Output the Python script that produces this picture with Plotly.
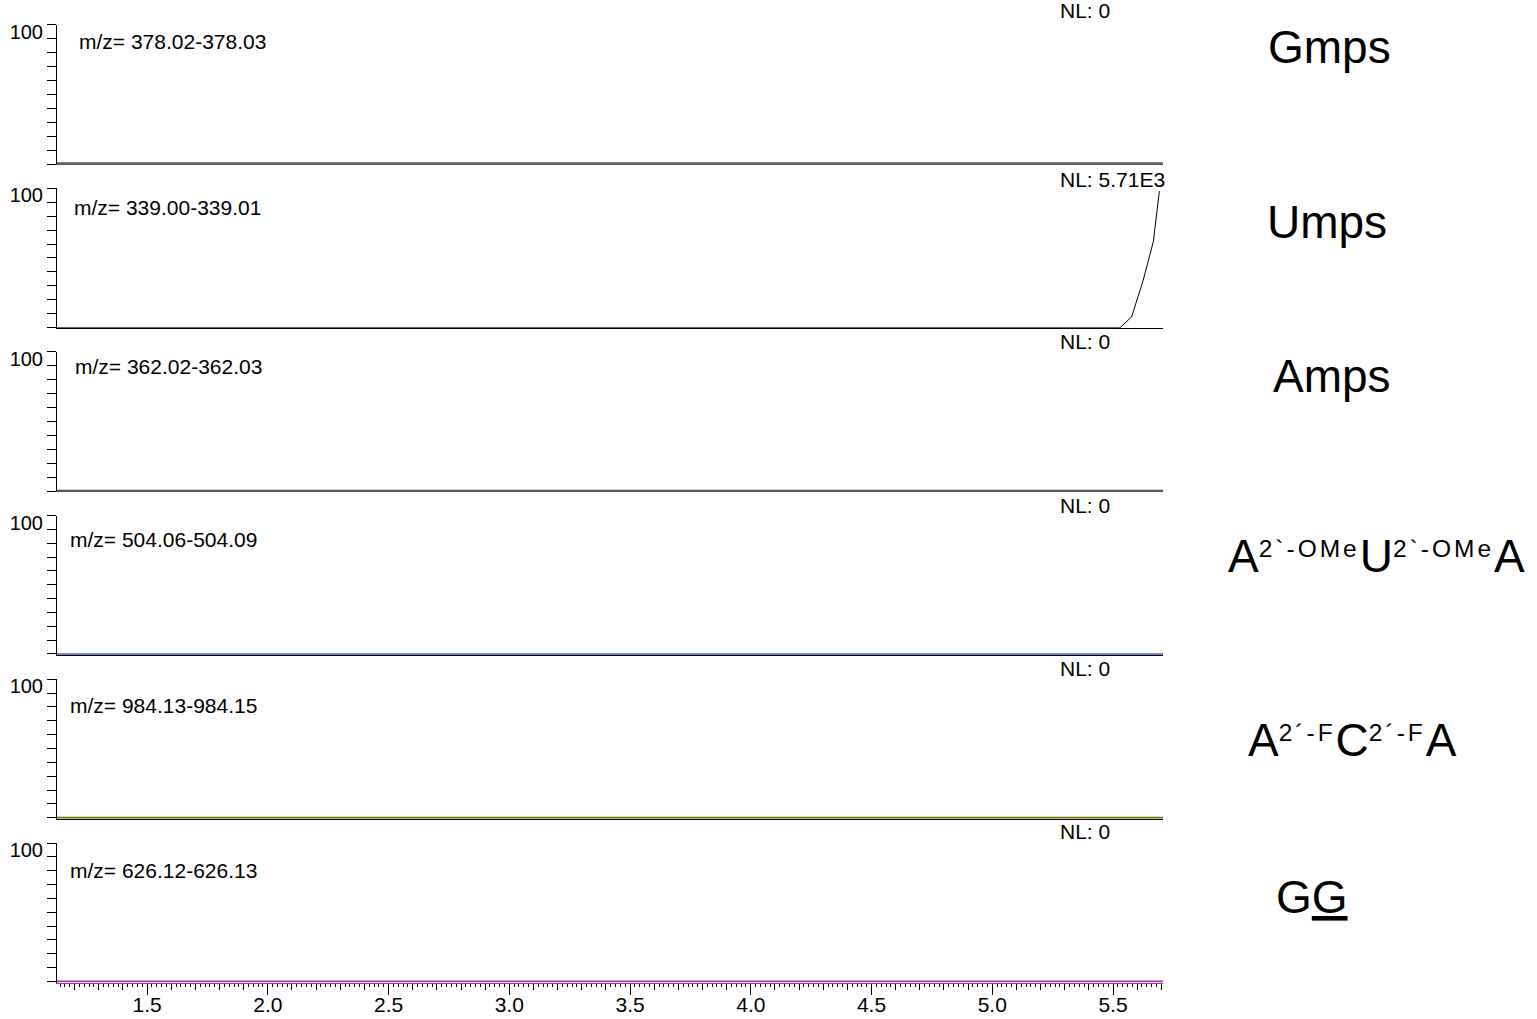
import plotly.graph_objects as go

# Retention time window shared by all chromatograms (min)
rt_range = [1.127, 5.707]

# Extracted-ion windows, normalisation levels and compound names
mz_windows = ["m/z= 378.02-378.03", "m/z= 339.00-339.01", "m/z= 362.02-362.03",
              "m/z= 504.06-504.09", "m/z= 984.13-984.15", "m/z= 626.12-626.13"]
nl_levels = ["NL: 0", "NL: 5.71E3", "NL: 0", "NL: 0", "NL: 0", "NL: 0"]

# Relative abundance (%) against retention time for each trace
gmps_rt = [1.127, 5.707]
gmps_int = [0, 0]
umps_rt = [1.127, 5.529, 5.577, 5.625, 5.667, 5.692]
umps_int = [0, 0, 7.8, 34, 61.7, 98]
amps_rt = [1.127, 5.707]
amps_int = [0, 0]
aua_rt = [1.127, 5.707]
aua_int = [0, 0]
aca_rt = [1.127, 5.707]
aca_int = [0, 0]
gg_rt = [1.127, 5.707]
gg_int = [0, 0]

traces_rt = [gmps_rt, umps_rt, amps_rt, aua_rt, aca_rt, gg_rt]
traces_int = [gmps_int, umps_int, amps_int, aua_int, aca_int, gg_int]

# y tick marks every 10 %, only the top one labelled
y_ticks = [0, 10, 20, 30, 40, 50, 60, 70, 80, 90, 100]
y_ticktext = ["", "", "", "", "", "", "", "", "", "", "100"]

FONT = "Arial, Liberation Sans, sans-serif"
W, H = 1537, 1019
L, R = 57, 374
PW = W - L - R

trace_colors = ["#606060", "#000000", "#565656", "#4f5fae", "#6e6e00", "#9a3f9a"]
trace_widths = [3.5, 1, 3.5, 1.6, 1.8, 2]
axis_colors = ["#606060", "#000000", "#565656", "#000000", "#000000", "#9a3f9a"]
# the coloured baselines sit just above the axis line
y_low = [0, 0, 0, -0.8, -0.8, -0.8]

tops = [24.5 + 163.7 * i for i in range(6)]
panel_h = 139.5


def ax_id(n):
    return "" if n == 1 else str(n)


fig = go.Figure()
layout = dict(
    width=W, height=H,
    margin=dict(l=L, r=R, t=0, b=0, pad=0, autoexpand=False),
    paper_bgcolor="white", plot_bgcolor="white",
    showlegend=False,
    font=dict(family=FONT, color="black"),
)

for i in range(6):
    n = i + 1
    k = ax_id(n)
    fig.add_trace(go.Scatter(
        x=traces_rt[i], y=traces_int[i], mode="lines",
        line=dict(color=trace_colors[i], width=trace_widths[i]),
        xaxis=f"x{k}", yaxis=f"y{k}", hoverinfo="skip",
    ))
    top = tops[i]
    dom = [1 - (top + panel_h) / H, 1 - top / H]
    xa = dict(
        domain=[0, 1], range=rt_range, anchor=f"y{k}", automargin=False,
        showline=True, linecolor=axis_colors[i], linewidth=1,
        layer="below traces",
        showgrid=False, zeroline=False, fixedrange=True,
        ticks="", showticklabels=False,
    )
    if n == 6:
        xa.update(
            tickmode="linear", tick0=0, dtick=0.5, ticks="outside",
            ticklen=11, tickwidth=1, tickcolor="black",
            minor=dict(tick0=0, dtick=0.1, ticks="outside", ticklen=6,
                       tickwidth=1, tickcolor="black", showgrid=False),
        )
    layout[f"xaxis{k}"] = xa
    layout[f"yaxis{k}"] = dict(
        domain=dom, range=[y_low[i], 100], anchor=f"x{k}", automargin=False,
        showline=True, linecolor="black", linewidth=1,
        showgrid=False, zeroline=False, fixedrange=True,
        tickmode="array", tickvals=y_ticks, ticktext=y_ticktext,
        ticks="outside", ticklen=9, tickwidth=1, tickcolor="black",
        tickfont=dict(size=20, family=FONT, color="black"),
        ticklabelshift=7,
    )

# overlaid axis under the bottom panel: finest 0.02-min ticks and the time labels
fig.add_trace(go.Scatter(x=[], y=[], xaxis="x7", yaxis="y6", hoverinfo="skip"))
layout["xaxis7"] = dict(
    overlaying="x6", anchor="y6", range=rt_range, domain=[0, 1],
    automargin=False,
    tickmode="linear", tick0=0, dtick=0.5, ticks="outside", ticklen=3,
    tickwidth=1, tickcolor="black",
    showticklabels=True, tickformat=".1f",
    tickfont=dict(size=21, family=FONT, color="black"),
    minor=dict(tick0=0, dtick=0.02, ticks="outside", ticklen=3,
               tickwidth=1, tickcolor="black", showgrid=False),
    showline=False, showgrid=False, zeroline=False, fixedrange=True,
)

annotations = []
mz_x = [77, 72, 73, 68, 68, 68]
mz_dy = [17, 19, 15, 24, 26, 27.5]
nl_dy = [14, 9, 10, 10, 11, 12]
for i in range(6):
    k = ax_id(i + 1)
    annotations.append(dict(
        text=mz_windows[i], xref=f"x{k} domain", yref=f"y{k} domain",
        x=(mz_x[i] - L) / PW, y=1, xanchor="left", yanchor="middle",
        yshift=-mz_dy[i], showarrow=False,
        font=dict(size=21, family=FONT, color="black"),
    ))
    annotations.append(dict(
        text=nl_levels[i], xref=f"x{k} domain", yref=f"y{k} domain",
        x=(1058 - L) / PW, y=1, xanchor="left", yanchor="middle",
        yshift=nl_dy[i], showarrow=False,
        font=dict(size=21, family=FONT, color="black"),
    ))

BIG = "font-size:46px"
SUP = "letter-spacing:3px"
compound_labels = [
    ("Gmps", 1329, 47, 46),
    ("Umps", 1327, 222, 46),
    ("Amps", 1332, 376, 46),
    (f"<span style='{BIG}'>A</span><sup><span style='{SUP}'>2`-OMe</span></sup>"
     f"<span style='{BIG}'>U</span><sup><span style='{SUP}'>2`-OMe</span></sup>"
     f"<span style='{BIG}'>A</span>", 1376, 556, 35),
    (f"<span style='{BIG}'>A</span><sup><span style='{SUP}'>2´-F</span></sup>"
     f"<span style='{BIG}'>C</span><sup><span style='{SUP}'>2´-F</span></sup>"
     f"<span style='{BIG}'>A</span>", 1352, 740, 35),
    ("G<u>G</u>", 1312, 897, 46),
]
for text, cx, cy, fs in compound_labels:
    annotations.append(dict(
        text=text, xref="paper", yref="paper",
        x=(cx - L) / PW, y=1 - cy / H, xanchor="center", yanchor="middle",
        showarrow=False, font=dict(size=fs, family=FONT, color="black"),
    ))

layout["annotations"] = annotations
fig.update_layout(**layout)
fig.write_html("out.html")
